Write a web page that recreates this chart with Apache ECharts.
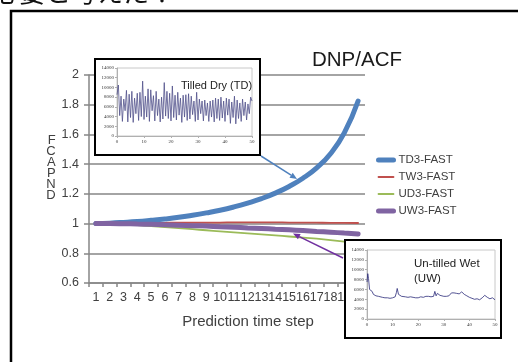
<!DOCTYPE html>
<html><head><meta charset="utf-8">
<script src="https://cdn.jsdelivr.net/npm/echarts@6/dist/echarts.min.js"></script>
<style>html,body{margin:0;padding:0;background:#fff}#c{width:518px;height:362px}</style>
</head><body><div id="c"></div>
<script>
// ---- main chart data ----
const categories = ['1','2','3','4','5','6','7','8','9','10','11','12','13','14','15','16','17','18','19','20'];
const seriesNames = ['TD3-FAST','TW3-FAST','UD3-FAST','UW3-FAST'];
const td3 = [1.000,1.003,1.008,1.014,1.022,1.031,1.042,1.056,1.072,1.090,1.112,1.138,1.168,1.205,1.250,1.305,1.375,1.470,1.610,1.825];
const tw3 = [1.000,1.001,1.002,1.003,1.004,1.005,1.006,1.006,1.007,1.007,1.008,1.008,1.008,1.008,1.007,1.007,1.006,1.005,1.005,1.004];
const ud3 = [1.000,0.998,0.994,0.989,0.983,0.976,0.969,0.962,0.955,0.948,0.941,0.934,0.927,0.920,0.913,0.906,0.898,0.889,0.879,0.868];
const uw3 = [1.000,1.000,0.999,0.997,0.995,0.992,0.989,0.986,0.983,0.979,0.975,0.971,0.967,0.962,0.958,0.953,0.947,0.942,0.936,0.930];

// ---- inset: Tilled Dry (TD), x = 0..50 step 0.5 ----
const tdX = [0,0.5,1,1.5,2,2.5,3,3.5,4,4.5,5,5.5,6,6.5,7,7.5,8,8.5,9,9.5,10,10.5,11,11.5,12,12.5,13,13.5,14,14.5,15,15.5,16,16.5,17,17.5,18,18.5,19,19.5,20,20.5,21,21.5,22,22.5,23,23.5,24,24.5,25,25.5,26,26.5,27,27.5,28,28.5,29,29.5,30,30.5,31,31.5,32,32.5,33,33.5,34,34.5,35,35.5,36,36.5,37,37.5,38,38.5,39,39.5,40,40.5,41,41.5,42,42.5,43,43.5,44,44.5,45,45.5,46,46.5,47,47.5,48,48.5,49,49.5,50];
const tdY = [8500,10500,4200,8200,3000,7600,5200,9400,2900,8600,3800,9200,2800,7800,4600,8800,3200,9000,4000,11300,3400,8200,3900,9700,3000,9500,5200,8300,3100,9200,4200,7600,2900,8000,3500,11000,4100,9200,3600,8800,3100,10300,3800,8400,3300,9000,4300,7800,2800,8400,3900,8500,3200,8700,3500,8200,4400,7200,3000,9000,3300,7600,4600,7200,3100,7400,4200,6800,3000,7200,3900,7400,2900,7800,3600,7600,3200,8000,3700,7200,3000,7800,4300,7600,2600,7000,3800,8200,2500,7400,3600,6800,3000,7600,4200,7000,3300,6600,4600,8000,7200];

// ---- inset: Un-tilled Wet (UW) ----
const uwX = [0,0.3,0.6,1,1.5,2,2.5,3,3.5,4.5,5,6,7,8,9,10,11,11.5,11.8,12.3,13,13.5,14,15,16,17,18,19,20,21,22,23,24,25,26,26.5,27,27.5,28,28.5,29,30,31,32,33,34,35,35.5,36,37,38,39,40,41,42,43,44,45,46,47,48,49,50];
const uwY = [7500,9200,8200,6000,5800,5600,5000,5200,4700,4600,4500,4400,4300,4300,4200,4300,4500,5400,6200,5000,5200,4600,4500,4500,4400,4500,4400,4300,4300,4500,4400,4600,4600,4500,4600,5600,4700,5200,5600,4800,4700,4600,4600,4700,5300,5300,5200,5400,5100,5500,5000,4700,4400,4200,4000,4100,3900,4300,4800,4400,4100,4300,3900];

const SANS = '"Liberation Sans",Arial,sans-serif';
const SERIF = '"Liberation Serif","DejaVu Serif",serif';
const COLORS = ['#4F81BD','#C0504D','#9BBB59','#8064A2'];
const WIDTHS = [5,1.8,1.8,5];

function pairs(xs, ys){ return xs.map((x,i)=>[x, ys[i]]); }

function arrow(x1,y1,x2,y2,color){
  const dx=x2-x1, dy=y2-y1, L=Math.hypot(dx,dy), ux=dx/L, uy=dy/L;
  const hl=7, hw=3;
  const bx=x2-ux*hl, by=y2-uy*hl;
  return [
    {type:'line', zlevel:0, z:50, shape:{x1:x1,y1:y1,x2:bx,y2:by}, style:{stroke:color, lineWidth:1.5}},
    {type:'polygon', zlevel:0, z:50, shape:{points:[[x2,y2],[bx-uy*hw,by+ux*hw],[bx+uy*hw,by-ux*hw]]}, style:{fill:color}}
  ];
}

const insetAxisLabel = {fontSize:5, color:'#333', fontFamily:SERIF, margin:3, formatter:v=>String(v)};
const insetAxisLine = {show:true, lineStyle:{color:'#b0b0b0', width:1}};

const option = {
  animation:false,
  backgroundColor:'#fff',
  color: COLORS,
  title: [
    {text:'DNP/ACF', left:307, top:45, textStyle:{fontFamily:SANS, fontSize:20.5, fontWeight:'normal', color:'#1a1a1a'}},
    {text:'Tilled Dry (TD)', left:176, top:75, zlevel:1, z:40, textStyle:{fontFamily:SANS, fontSize:11, fontWeight:'normal', color:'#222'}},
    {text:'Un-tilled Wet\n(UW)', left:409, top:251, zlevel:1, z:40, textStyle:{fontFamily:SANS, fontSize:11.5, lineHeight:15, fontWeight:'normal', color:'#222'}}
  ],
  legend: {
    orient:'vertical', left:371, top:149, itemGap:5, itemWidth:15, itemHeight:14,
    textStyle:{fontFamily:SANS, fontSize:11.5, color:'#404040'},
    data: seriesNames.map((n,i)=>({name:n, lineStyle:{width:WIDTHS[i]}, itemStyle:{opacity:0}}))
  },
  grid: [
    {left:89, top:75, right:153, bottom:79},
    {left:117, top:68, right:266, bottom:226, show:true, borderColor:'#c8c8c8', borderWidth:1, backgroundColor:'#fff', zlevel:1, z:20},
    {left:367, top:250, right:23, bottom:43, show:true, borderColor:'#c8c8c8', borderWidth:1, backgroundColor:'#fff', zlevel:1, z:20}
  ],
  xAxis: [
    {type:'category', gridIndex:0, data:categories, boundaryGap:true,
     name:'Prediction time step', nameLocation:'middle', nameGap:31,
     nameTextStyle:{fontFamily:SANS, fontSize:15, color:'#404040', padding:[0,0,0,42]},
     axisLine:{lineStyle:{color:'#868686', width:1.5}},
     axisTick:{show:true, length:4, lineStyle:{color:'#868686', width:1.5}},
     axisLabel:{interval:0, fontFamily:SANS, fontSize:12.5, color:'#404040', margin:8}},
    {type:'value', gridIndex:1, min:0, max:50, interval:10, zlevel:1, z:30,
     axisLine:insetAxisLine, axisTick:{show:true, length:2, lineStyle:{color:'#b0b0b0'}}, splitLine:{show:false}, axisLabel:insetAxisLabel},
    {type:'value', gridIndex:2, min:0, max:50, interval:10, zlevel:1, z:30,
     axisLine:insetAxisLine, axisTick:{show:true, length:2, lineStyle:{color:'#b0b0b0'}}, splitLine:{show:false}, axisLabel:insetAxisLabel}
  ],
  yAxis: [
    {type:'value', gridIndex:0, min:0.6, max:2, interval:0.2,
     name:'F\nC\nA\nP\nN\nD\n \n ', nameLocation:'middle', nameRotate:0, nameGap:31,
     nameTextStyle:{fontFamily:SANS, fontSize:13, lineHeight:11, color:'#404040'},
     axisLine:{show:true, lineStyle:{color:'#868686', width:1.5}},
     axisTick:{show:true, length:5, lineStyle:{color:'#868686', width:1.5}},
     splitLine:{show:true, lineStyle:{color:'#868686', width:1.5}},
     axisLabel:{fontFamily:SANS, fontSize:12.5, color:'#404040', margin:10, formatter:v=>String(+v.toFixed(1))}},
    {type:'value', gridIndex:1, min:0, max:14000, interval:2000, zlevel:1, z:30,
     axisLine:insetAxisLine, axisTick:{show:true, length:2, lineStyle:{color:'#b0b0b0'}}, splitLine:{show:false}, axisLabel:insetAxisLabel},
    {type:'value', gridIndex:2, min:0, max:14000, interval:2000, zlevel:1, z:30,
     axisLine:insetAxisLine, axisTick:{show:true, length:2, lineStyle:{color:'#b0b0b0'}}, splitLine:{show:false}, axisLabel:insetAxisLabel}
  ],
  series: [
    {name:seriesNames[0], type:'line', data:td3, smooth:true, symbol:'none', lineStyle:{width:WIDTHS[0], cap:'round'}},
    {name:seriesNames[1], type:'line', data:tw3, smooth:true, symbol:'none', lineStyle:{width:WIDTHS[1], cap:'round'}},
    {name:seriesNames[2], type:'line', data:ud3, smooth:true, symbol:'none', lineStyle:{width:WIDTHS[2], cap:'round'}},
    {name:seriesNames[3], type:'line', data:uw3, smooth:true, symbol:'none', lineStyle:{width:WIDTHS[3], cap:'round'}},
    {name:'TD inset', type:'line', xAxisIndex:1, yAxisIndex:1, data:pairs(tdX, tdY), symbol:'none', zlevel:1, z:35,
     lineStyle:{color:'#50508a', width:0.8}},
    {name:'UW inset', type:'line', xAxisIndex:2, yAxisIndex:2, data:pairs(uwX, uwY), symbol:'none', zlevel:1, z:35,
     lineStyle:{color:'#2a2a78', width:0.8}}
  ],
  graphic: { elements: [
    {type:'text', zlevel:0, z:60, style:{x:-7, y:5, text:'必要と考えた！', textVerticalAlign:'bottom', font:'26px "Noto Sans CJK JP"', fill:'#111'}},
    {type:'rect', zlevel:0, z:60, shape:{x:11, y:11, width:540, height:380}, style:{fill:null, stroke:'#000', lineWidth:2.5}},
    {type:'rect', zlevel:1, z:10, shape:{x:95, y:59, width:165, height:96}, style:{fill:'#fff', stroke:'#000', lineWidth:2}},
    {type:'rect', zlevel:1, z:10, shape:{x:345, y:240, width:156, height:98}, style:{fill:'#fff', stroke:'#000', lineWidth:2}}
  ].concat(arrow(261,156,297,179,'#4F81BD')).concat(arrow(343,258,293,233.5,'#7030A0')) }
};
const chart = echarts.init(document.getElementById('c'));
chart.setOption(option);
</script></body></html>
